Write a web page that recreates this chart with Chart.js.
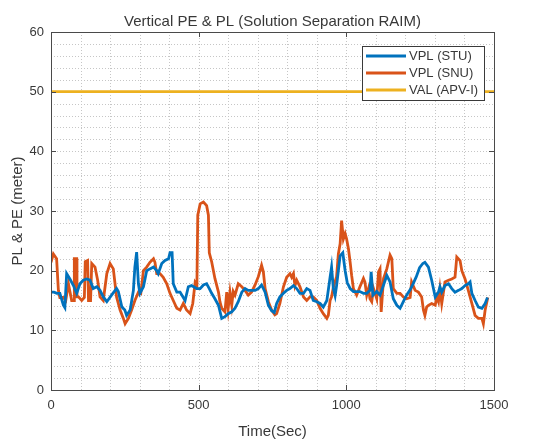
<!DOCTYPE html>
<html><head><meta charset="utf-8">
<script src="https://cdn.jsdelivr.net/npm/chart.js@4"></script>
<style>html,body{margin:0;padding:0;background:#fff;}canvas{display:block;}</style>
</head><body>
<canvas id="c" width="536" height="443"></canvas>
<script>
const chartTitle = 'Vertical PE & PL (Solution Separation RAIM)';
const xAxisTitle = 'Time(Sec)';
const yAxisTitle = 'PL & PE (meter)';
const seriesLabels = ['VPL (STU)', 'VPL (SNU)', 'VAL (APV-I)'];
const xTickLabels = [0, 500, 1000, 1500];
const yTickLabels = [0, 10, 20, 30, 40, 50, 60];

const stuTime = [0,10,20,30,42,47,53,64,76,87,98,109,121,132,143,155,166,177,189,205,222,228,240,250,256,268,279,284,290,296,301,313,324,335,347,358,363,375,386,398,403,410,414,426,437,454,465,476,493,505,516,527,536,544,555,567,578,589,600,612,623,634,646,657,668,679,691,702,713,725,736,747,756,764,775,787,798,809,821,832,843,855,866,877,888,900,911,922,934,945,950,956,962,967,979,988,996,1003,1013,1024,1035,1046,1058,1069,1080,1084,1090,1103,1114,1126,1137,1148,1159,1171,1182,1193,1204,1216,1226,1237,1248,1259,1266,1278,1289,1301,1312,1317,1323,1334,1346,1357,1368,1380,1391,1402,1413,1419,1425,1436,1447,1459,1470,1478];
const stuVPL = [16.4,16.4,16.2,16.2,14.2,13.8,19.5,18.6,17.5,16.2,17.8,18.4,18.6,18.4,17.0,17.3,16.7,15.6,14.8,15.9,17.0,16.5,13.9,13.4,12.5,13.4,16.7,20.6,23.1,17.8,16.2,17.3,20.0,20.3,20.6,20.0,19.5,21.2,21.7,22.0,23.0,23.0,17.8,16.4,16.4,15.0,17.3,17.5,17.0,17.0,17.6,17.8,17.0,16.2,15.3,14.2,12.0,12.3,12.8,13.1,13.7,14.8,16.4,17.0,16.7,16.7,16.7,17.0,17.6,16.4,14.2,13.3,13.0,14.5,15.6,16.2,16.7,17.0,17.5,17.0,16.2,16.2,17.0,16.7,15.0,14.8,14.5,13.9,15.0,18.9,20.6,17.0,15.8,17.5,22.5,23.0,20.0,18.0,17.0,16.5,16.5,16.5,16.2,16.2,16.7,19.8,15.9,16.5,15.9,17.6,19.2,18.1,15.3,14.2,13.7,14.8,15.9,16.8,17.8,19.0,20.5,21.2,21.4,20.6,18.4,15.6,16.4,17.3,16.4,17.5,17.8,17.0,16.4,16.7,17.0,17.5,17.8,18.1,16.2,15.0,13.9,13.7,14.5,15.5];

const snuTime = [0,8,19,25,30,42,50,59,70,78,79,87,88,93,104,113,116,124,127,134,138,149,158,166,177,189,200,211,222,234,245,251,262,273,284,296,304,313,324,335,347,352,358,369,380,392,403,414,426,437,448,459,471,480,488,494,497,505,516,527,533,536,544,555,567,572,578,589,595,600,606,612,617,623,634,646,657,668,679,691,702,713,719,725,736,747,758,764,775,787,798,809,815,821,826,832,843,855,866,877,888,900,911,922,934,939,945,950,956,967,973,979,984,990,996,1001,1007,1013,1018,1024,1035,1046,1058,1063,1069,1075,1080,1086,1092,1103,1109,1114,1118,1126,1137,1148,1154,1159,1171,1182,1193,1204,1216,1221,1233,1244,1255,1261,1266,1272,1278,1289,1301,1306,1312,1317,1323,1334,1346,1357,1368,1374,1385,1391,1402,1413,1425,1436,1447,1459,1464,1470,1479];
const snuVPL = [21.4,22.8,22.0,16.7,15.5,15.5,15.0,17.8,15.0,15.0,22.0,22.0,15.6,15.6,15.0,15.5,21.5,21.7,15.0,15.0,21.2,20.6,18.4,15.6,15.0,19.5,21.2,20.3,15.6,13.4,12.0,11.1,12.0,13.4,15.0,16.4,16.2,20.0,20.6,21.4,22.0,21.4,19.5,19.5,18.9,17.8,16.2,15.0,13.7,13.4,14.5,13.4,12.8,14.5,18.0,17.5,29.3,31.2,31.5,30.9,29.3,23.0,21.5,18.7,16.4,14.8,13.7,13.1,16.4,13.7,16.4,14.2,16.5,15.9,17.8,17.3,16.7,15.9,16.4,17.6,19.0,20.9,19.8,17.0,14.8,13.4,12.6,12.8,14.5,17.3,18.9,19.5,18.9,19.5,17.5,18.4,17.3,15.6,15.0,15.6,15.6,15.0,13.7,12.8,12.0,12.5,15.0,15.6,17.2,19.0,22.8,24.5,28.4,25.3,26.2,25.3,23.7,21.4,19.2,17.0,15.9,17.3,18.7,18.1,15.9,17.0,15.3,14.8,17.0,15.3,19.8,20.3,13.1,18.7,20.3,22.6,22.0,17.0,16.2,16.2,15.6,15.3,15.5,18.1,16.7,16.4,15.6,13.4,12.5,13.9,14.2,14.5,14.2,15.6,14.8,17.0,14.5,18.1,18.4,18.6,18.9,22.3,21.7,20.0,18.6,16.7,14.5,12.5,12.0,12.0,11.1,13.4,15.5];

const valTime = [0, 1500];
const valLevel = [50, 50];

const COLORS = ['#0072BD', '#D95319', '#EDB120'];
const FONT = '"Liberation Sans", Arial, Helvetica, sans-serif';
const TEXT = '#383838';
const AREA = {left: 51, top: 32, right: 494, bottom: 390};
const toPts = (t, v) => t.map((x, i) => ({x: x, y: v[i]}));

const decor = {
  id: 'decor',
  beforeDatasetsDraw(chart) {
    const {ctx, chartArea: a, scales: {x, y}} = chart;
    ctx.save();
    ctx.lineWidth = 1;
    ctx.setLineDash([1, 2]);
    ctx.strokeStyle = '#c6c6c6';
    x.ticks.forEach(t => {
      const px = Math.round(x.getPixelForValue(t.value)) + 0.5;
      if (px <= a.left + 1 || px >= a.right - 1) return;
      ctx.beginPath(); ctx.moveTo(px, a.top); ctx.lineTo(px, a.bottom); ctx.stroke();
    });
    y.ticks.forEach(t => {
      const py = Math.round(y.getPixelForValue(t.value)) + 0.5;
      if (py <= a.top + 1 || py >= a.bottom - 1) return;
      ctx.beginPath(); ctx.moveTo(a.left, py); ctx.lineTo(a.right, py); ctx.stroke();
    });
    ctx.restore();
  },
  afterDatasetsDraw(chart) {
    const {ctx, chartArea: a, scales: {x, y}} = chart;
    ctx.save();
    ctx.setLineDash([]);
    ctx.strokeStyle = '#4a4a4a';
    ctx.lineWidth = 1;
    ctx.strokeRect(Math.round(a.left) + 0.5, Math.round(a.top) + 0.5, Math.round(a.right - a.left), Math.round(a.bottom - a.top));
    const tl = 5;
    xTickLabels.forEach(v => {
      const px = Math.round(x.getPixelForValue(v)) + 0.5;
      ctx.beginPath();
      ctx.moveTo(px, a.bottom); ctx.lineTo(px, a.bottom - tl);
      ctx.moveTo(px, a.top); ctx.lineTo(px, a.top + tl);
      ctx.stroke();
    });
    yTickLabels.forEach(v => {
      const py = Math.round(y.getPixelForValue(v)) + 0.5;
      ctx.beginPath();
      ctx.moveTo(a.left, py); ctx.lineTo(a.left + tl, py);
      ctx.moveTo(a.right, py); ctx.lineTo(a.right - tl, py);
      ctx.stroke();
    });
    // legend
    const lx = 362, ly = 46, lw = 122, lh = 54;
    ctx.fillStyle = '#ffffff';
    ctx.fillRect(lx, ly, lw, lh);
    ctx.strokeStyle = '#3a3a3a';
    ctx.strokeRect(lx + 0.5, ly + 0.5, lw, lh);
    ctx.font = '13px ' + FONT;
    ctx.textBaseline = 'middle';
    ctx.textAlign = 'left';
    chart.data.datasets.forEach((ds, i) => {
      const ey = ly + 10 + i * 17;
      ctx.strokeStyle = ds.borderColor;
      ctx.lineWidth = 2.8;
      ctx.beginPath(); ctx.moveTo(lx + 4, ey); ctx.lineTo(lx + 44, ey); ctx.stroke();
      ctx.fillStyle = TEXT;
      ctx.fillText(ds.label, lx + 47, ey + 0.5);
    });
    // titles
    ctx.fillStyle = TEXT;
    ctx.textAlign = 'center';
    ctx.textBaseline = 'alphabetic';
    ctx.font = '15px ' + FONT;
    ctx.fillText(chartTitle, (a.left + a.right) / 2, 26);
    ctx.fillText(xAxisTitle, (a.left + a.right) / 2, 436);
    ctx.save();
    ctx.translate(22, (a.top + a.bottom) / 2);
    ctx.rotate(-Math.PI / 2);
    ctx.fillText(yAxisTitle, 0, 0);
    ctx.restore();
    ctx.restore();
  }
};

const lineDs = (label, data, color) => ({
  label: label, data: data, borderColor: color, backgroundColor: color,
  borderWidth: 2.8, pointRadius: 0, tension: 0, fill: false
});

new Chart(document.getElementById('c').getContext('2d'), {
  type: 'line',
  data: {
    datasets: [
      lineDs(seriesLabels[0], toPts(stuTime, stuVPL), COLORS[0]),
      lineDs(seriesLabels[1], toPts(snuTime, snuVPL), COLORS[1]),
      lineDs(seriesLabels[2], toPts(valTime, valLevel), COLORS[2])
    ]
  },
  options: {
    responsive: false, animation: false, devicePixelRatio: 1,
    layout: {padding: {left: 0, top: AREA.top, right: 536 - AREA.right, bottom: 0}},
    plugins: {legend: {display: false}, title: {display: false}, tooltip: {enabled: false}},
    scales: {
      x: {
        type: 'linear', min: 0, max: 1500,
        afterFit: s => { s.height = 443 - AREA.bottom; },
        ticks: {stepSize: 100, autoSkip: false, maxRotation: 0,
          callback: v => xTickLabels.includes(v) ? String(v) : '',
          font: {family: FONT, size: 13}, color: TEXT, padding: 8},
        grid: {display: false, drawTicks: false},
        border: {display: false}
      },
      y: {
        type: 'linear', min: 0, max: 60,
        afterFit: s => { s.width = AREA.left; },
        ticks: {stepSize: 2, autoSkip: false,
          callback: v => yTickLabels.includes(v) ? String(v) : '',
          font: {family: FONT, size: 13}, color: TEXT, padding: 7},
        grid: {display: false, drawTicks: false},
        border: {display: false}
      }
    }
  },
  plugins: [decor]
});
</script>
</body></html>
